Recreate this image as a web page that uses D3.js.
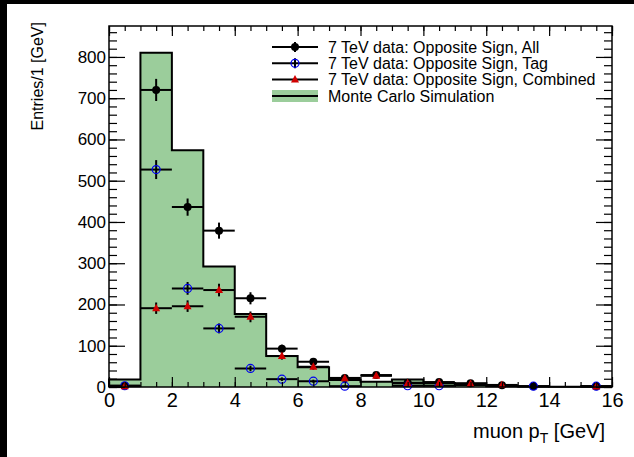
<!doctype html>
<html lang="en">
<head>
<meta charset="utf-8">
<title>muon pT</title>
<style>
  html, body { margin: 0; padding: 0; background: #fff; overflow: hidden; }
  svg { display: block; }
  text { font-family: "Liberation Sans", Arial, sans-serif; }
</style>
</head>
<body>
<div id="chart"></div>
<script src="https://d3js.org/d3.v7.min.js"></script>
<script>
// bin centres of the muon pT histogram (1 GeV bins)
var binCenters = [0.5, 1.5, 2.5, 3.5, 4.5, 5.5, 6.5, 7.5, 8.5, 9.5, 10.5, 11.5, 12.5, 13.5, 14.5, 15.5];
// Monte Carlo simulation, entries per bin
var mcValues = [18, 810, 574, 292, 177, 75, 48, 17, 13, 18, 9, 5, 2, 1, 0.5, 0.5];
// 7 TeV data: opposite sign, all
var allValues = [3, 720, 436, 379, 215, 93, 61, 22, 29, 10, 12, 9, 4, 2, null, 2];
// 7 TeV data: opposite sign, tag
var tagValues = [3, 527, 239, 142, 45, 19, 14, 2, null, 3, 3, null, null, 2, null, 2];
// 7 TeV data: opposite sign, combined
var combValues = [2, 191, 196, 235, 170, 75, 49, 21, 27, 9, 10, 8, 5, null, null, 1];

var xTicks = [0, 2, 4, 6, 8, 10, 12, 14, 16];
var yTicks = [0, 100, 200, 300, 400, 500, 600, 700, 800];
var legendLabels = ["7 TeV data: Opposite Sign, All", "7 TeV data: Opposite Sign, Tag",
                    "7 TeV data: Opposite Sign, Combined", "Monte Carlo Simulation"];

var W = 634, H = 457;
var frame = {left: 109, right: 612, top: 26, bottom: 387};

var svg = d3.select("#chart").append("svg")
  .attr("width", W).attr("height", H);

// black bands on the top and left edge of the original picture
svg.append("rect").attr("width", W).attr("height", 4).attr("fill", "#000");
svg.append("rect").attr("width", 7).attr("height", H).attr("fill", "#000");

var x = d3.scaleLinear().domain([0, 16]).range([frame.left, frame.right]);
var y = d3.scaleLinear().domain([0, 875]).range([frame.bottom, frame.top]);

// MC histogram as a step area
var steps = binCenters.map(function(c, i) { return [c - 0.5, mcValues[i]]; });
steps.push([16, mcValues[mcValues.length - 1]]);

var area = d3.area().curve(d3.curveStepAfter)
  .x(function(d) { return x(d[0]); })
  .y0(y(0))
  .y1(function(d) { return y(d[1]); });
var line = d3.line().curve(d3.curveStepAfter)
  .x(function(d) { return x(d[0]); })
  .y(function(d) { return y(d[1]); });

var plot = svg.append("g");
plot.append("path").datum(steps).attr("d", area).attr("fill", "#9bcd9b");
plot.append("path").datum([[0, 0]].concat(steps, [[16, 0]])).attr("d", line)
  .attr("fill", "none").attr("stroke", "#000").attr("stroke-width", 2);

// data series: error bars + markers
function drawSeries(vals, kind) {
  var pts = binCenters.map(function(c, i) { return {x: c, v: vals[i]}; })
    .filter(function(d) { return d.v !== null; });
  var g = plot.append("g");
  g.selectAll(".h").data(pts).enter().append("line")
    .attr("x1", function(d) { return x(d.x - 0.5); })
    .attr("x2", function(d) { return x(d.x + 0.5); })
    .attr("y1", function(d) { return y(d.v); })
    .attr("y2", function(d) { return y(d.v); })
    .attr("stroke", "#000").attr("stroke-width", 2);
  g.selectAll(".v").data(pts).enter().append("line")
    .attr("x1", function(d) { return x(d.x); })
    .attr("x2", function(d) { return x(d.x); })
    .attr("y1", function(d) { return y(d.v + Math.sqrt(d.v)); })
    .attr("y2", function(d) { return y(Math.max(0, d.v - Math.sqrt(d.v))); })
    .attr("stroke", "#000").attr("stroke-width", 2);
  if (kind === "all") {
    g.selectAll(".m").data(pts).enter().append("circle")
      .attr("cx", function(d) { return x(d.x); })
      .attr("cy", function(d) { return y(d.v); })
      .attr("r", 4).attr("fill", "#000");
  } else if (kind === "tag") {
    g.selectAll(".m").data(pts).enter().append("circle")
      .attr("cx", function(d) { return x(d.x); })
      .attr("cy", function(d) { return y(d.v); })
      .attr("r", 4).attr("fill", "none").attr("stroke", "#0000ee").attr("stroke-width", 1.2);
  } else {
    g.selectAll(".m").data(pts).enter().append("path")
      .attr("transform", function(d) { return "translate(" + x(d.x) + "," + y(d.v) + ")"; })
      .attr("d", "M0,-4.5L4,3L-4,3Z").attr("fill", "#d00000");
  }
}
drawSeries(allValues, "all");
drawSeries(tagValues, "tag");
drawSeries(combValues, "comb");

// frame and ticks (ROOT style, ticks inside)
var xMinor = d3.range(0, 16.01, 0.5);
var yMinor = d3.range(0, 875, 20);

function addAxis(axis, tr, labels) {
  var g = svg.append("g").attr("transform", tr).call(axis);
  g.select(".domain").remove();
  g.selectAll("line").attr("stroke", "#000").attr("stroke-width", 1.2);
  if (!labels) g.selectAll("text").remove();
  return g;
}
addAxis(d3.axisBottom(x).tickValues(xMinor).tickSize(-5), "translate(0," + frame.bottom + ")", false);
addAxis(d3.axisTop(x).tickValues(xMinor).tickSize(-5), "translate(0," + frame.top + ")", false);
addAxis(d3.axisTop(x).tickValues(xTicks).tickSize(-10), "translate(0," + frame.top + ")", false);
addAxis(d3.axisLeft(y).tickValues(yMinor).tickSize(-8), "translate(" + frame.left + ",0)", false);
addAxis(d3.axisRight(y).tickValues(yMinor).tickSize(-8), "translate(" + frame.right + ",0)", false);
addAxis(d3.axisRight(y).tickValues(yTicks).tickSize(-16), "translate(" + frame.right + ",0)", false);

var xa = addAxis(d3.axisBottom(x).tickValues(xTicks).tickSize(-10).tickPadding(6), "translate(0," + frame.bottom + ")", true);
xa.selectAll("text").attr("font-size", 20).attr("fill", "#000");
var ya = addAxis(d3.axisLeft(y).tickValues(yTicks).tickSize(-16).tickPadding(3), "translate(" + frame.left + ",0)", true);
ya.selectAll("text").attr("font-size", 17).attr("fill", "#000");

svg.append("rect")
  .attr("x", frame.left).attr("y", frame.top)
  .attr("width", frame.right - frame.left).attr("height", frame.bottom - frame.top)
  .attr("fill", "none").attr("stroke", "#000").attr("stroke-width", 1.5);

// axis titles
var xt = svg.append("text").attr("x", 605).attr("y", 438)
  .attr("text-anchor", "end").attr("font-size", 20).attr("fill", "#000");
xt.append("tspan").text("muon p");
xt.append("tspan").attr("font-size", 14).attr("dy", 5).text("T");
xt.append("tspan").attr("dy", -5).text(" [GeV]");

svg.append("text")
  .attr("transform", "translate(43," + 22 + ") rotate(-90)")
  .attr("text-anchor", "end").attr("font-size", 16).attr("fill", "#000")
  .text("Entries/1 [GeV]");

// legend
var leg = svg.append("g");
var rowY = [47, 63.3, 79.6, 96];
leg.selectAll("text").data(legendLabels).enter().append("text")
  .attr("x", 328).attr("y", function(d, i) { return rowY[i] + 5.5; })
  .attr("font-size", 16).attr("fill", "#000")
  .text(function(d) { return d; });
leg.append("rect").attr("x", 272).attr("y", rowY[3] - 6).attr("width", 46).attr("height", 12).attr("fill", "#9bcd9b");
rowY.forEach(function(ry) {
  leg.append("line").attr("x1", 272).attr("x2", 318).attr("y1", ry).attr("y2", ry)
    .attr("stroke", "#000").attr("stroke-width", 2);
});
leg.append("line").attr("x1", 295).attr("x2", 295).attr("y1", rowY[0] - 5).attr("y2", rowY[0] + 5).attr("stroke", "#000").attr("stroke-width", 2);
leg.append("line").attr("x1", 295).attr("x2", 295).attr("y1", rowY[1] - 5).attr("y2", rowY[1] + 5).attr("stroke", "#000").attr("stroke-width", 2);
leg.append("circle").attr("cx", 295).attr("cy", rowY[0]).attr("r", 4).attr("fill", "#000");
leg.append("circle").attr("cx", 295).attr("cy", rowY[1]).attr("r", 4).attr("fill", "none").attr("stroke", "#0000ee").attr("stroke-width", 1.2);
leg.append("path").attr("transform", "translate(295," + rowY[2] + ")").attr("d", "M0,-4.5L4,3L-4,3Z").attr("fill", "#d00000");
</script>
</body>
</html>
